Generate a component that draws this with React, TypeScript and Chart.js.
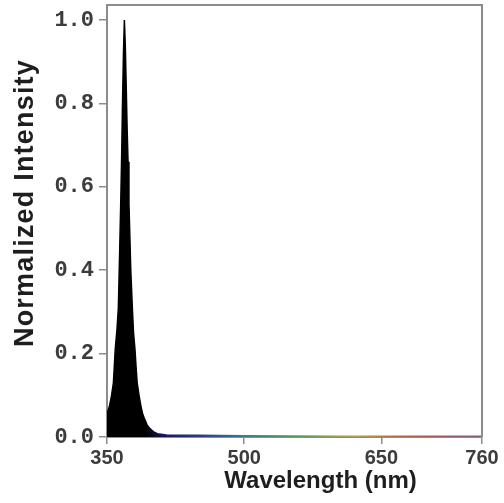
import { useEffect, useRef } from 'react';
import { Chart, registerables } from 'chart.js';

Chart.register(...registerables);

// Emission spectrum samples (nm)
const wavelengths = [
  350, 352.6, 355, 357, 359, 361, 362.4, 363.9, 365, 366, 366.8, 368, 369,
  370, 371, 372, 373, 374, 375, 376, 377.7, 379, 380.6, 382, 383, 385, 387.2,
  389, 391.5, 394, 397, 400.6, 405, 415, 450, 500, 600, 700, 760,
];
// Normalized intensity at each wavelength
const intensities = [
  0.057, 0.073, 0.1, 0.13, 0.21, 0.26, 0.31, 0.45, 0.56, 0.67, 0.78, 0.92, 1.0,
  0.94, 0.84, 0.74, 0.66, 0.56, 0.48, 0.4, 0.31, 0.25, 0.21, 0.16, 0.13, 0.1,
  0.073, 0.055, 0.041, 0.028, 0.02, 0.013, 0.008, 0.005, 0.004, 0.003, 0.002,
  0.002, 0.002,
];

const xTicks = [350, 500, 650, 760];
const yTicks = [0, 0.2, 0.4, 0.6, 0.8, 1.0];

const xTitle = 'Wavelength (nm)';
const yTitle = 'Normalized Intensity';

const AXIS_GREY = '#8c8c8c';

// Colour along the spectrum: black under the peak, tinted toward the red end
const spectrumStops: [number, string][] = [
  [350, '#000000'],
  [392, '#000000'],
  [410, '#14145a'],
  [450, '#2a3a8a'],
  [500, '#3e7a8a'],
  [560, '#5a9a5a'],
  [620, '#b0a050'],
  [680, '#b06050'],
  [760, '#806080'],
];

function spectrumPaint(chart: any) {
  const { chartArea, scales } = chart;
  if (!chartArea) return '#000';
  const xs = scales.x;
  const x0 = xs.getPixelForValue(350);
  const x1 = xs.getPixelForValue(760);
  const g = chart.ctx.createLinearGradient(x0, 0, x1, 0);
  for (const [w, c] of spectrumStops) g.addColorStop((w - 350) / 410, c);
  return g;
}

const frameAndTitles = {
  id: 'frameAndTitles',
  afterDraw(chart: any) {
    const { ctx, chartArea } = chart;
    const { left, right, top, bottom } = chartArea;
    ctx.save();
    // top and right edges of the plot box
    ctx.strokeStyle = AXIS_GREY;
    ctx.lineWidth = 2;
    ctx.beginPath();
    ctx.moveTo(left, top);
    ctx.lineTo(right, top);
    ctx.lineTo(right, bottom);
    ctx.stroke();

    // x axis title
    ctx.fillStyle = '#1e1e1e';
    ctx.font = "bold 24px 'Liberation Sans', Arial, sans-serif";
    ctx.textAlign = 'center';
    ctx.textBaseline = 'alphabetic';
    ctx.fillText(xTitle, (left + right) / 2 + 26, bottom + 51);

    // y axis title
    ctx.translate(33, (top + bottom) / 2 - 18);
    ctx.rotate(-Math.PI / 2);
    ctx.font = "bold 27px 'Liberation Sans', Arial, sans-serif";
    (ctx as any).letterSpacing = '1.2px';
    ctx.fillText(yTitle, 0, 0);
    ctx.restore();
  },
};

export default function App() {
  const ref = useRef<HTMLCanvasElement>(null);

  useEffect(() => {
    const canvas = ref.current;
    if (!canvas) return;
    const chart = new Chart(canvas, {
      type: 'line',
      data: {
        datasets: [
          {
            data: wavelengths.map((w, i) => ({ x: w, y: intensities[i] })),
            fill: 'origin',
            backgroundColor: (c: any) => spectrumPaint(c.chart),
            borderColor: (c: any) => spectrumPaint(c.chart),
            borderWidth: 1.5,
            pointRadius: 0,
            tension: 0,
          },
        ],
      },
      options: {
        animation: false,
        responsive: false,
        layout: { padding: { top: 5, right: 22, left: 0, bottom: 0 } },
        plugins: {
          legend: { display: false },
          tooltip: { enabled: false },
        },
        scales: {
          x: {
            type: 'linear',
            min: 350,
            max: 760,
            afterBuildTicks: (s: any) => {
              s.ticks = xTicks.map((v) => ({ value: v }));
            },
            afterFit: (s: any) => {
              s.height = 66;
              s.paddingLeft = 0;
              s.paddingRight = 0;
            },
            grid: {
              drawOnChartArea: false,
              drawTicks: true,
              tickLength: 7,
              color: AXIS_GREY,
              lineWidth: 1.5,
            },
            border: { display: true, color: AXIS_GREY, width: 2 },
            ticks: {
              autoSkip: false,
              maxRotation: 0,
              padding: 2,
              color: '#3c3c3c',
              font: { family: "'Liberation Sans', Arial, sans-serif", size: 20, weight: 'bold' },
              callback: (v: any) => String(v),
            },
          },
          y: {
            type: 'linear',
            min: 0,
            max: 1.036,
            afterBuildTicks: (s: any) => {
              s.ticks = yTicks.map((v) => ({ value: v }));
            },
            afterFit: (s: any) => {
              s.width = 107;
              s.paddingTop = 0;
              s.paddingBottom = 0;
            },
            grid: {
              drawOnChartArea: false,
              drawTicks: true,
              tickLength: 8,
              color: AXIS_GREY,
              lineWidth: 1.5,
            },
            border: { display: true, color: AXIS_GREY, width: 2 },
            ticks: {
              padding: 5,
              color: '#3c3c3c',
              font: { family: "'Liberation Mono', 'DejaVu Sans Mono', monospace", size: 22, weight: 'bold' },
              callback: (v: any) => Number(v).toFixed(1),
            },
          },
        },
      },
      plugins: [frameAndTitles],
    });
    return () => chart.destroy();
  }, []);

  return (
    <div style={{ position: 'fixed', left: 0, top: 0, width: 504, height: 503, background: '#fff' }}>
      <canvas ref={ref} width={504} height={503} />
    </div>
  );
}
